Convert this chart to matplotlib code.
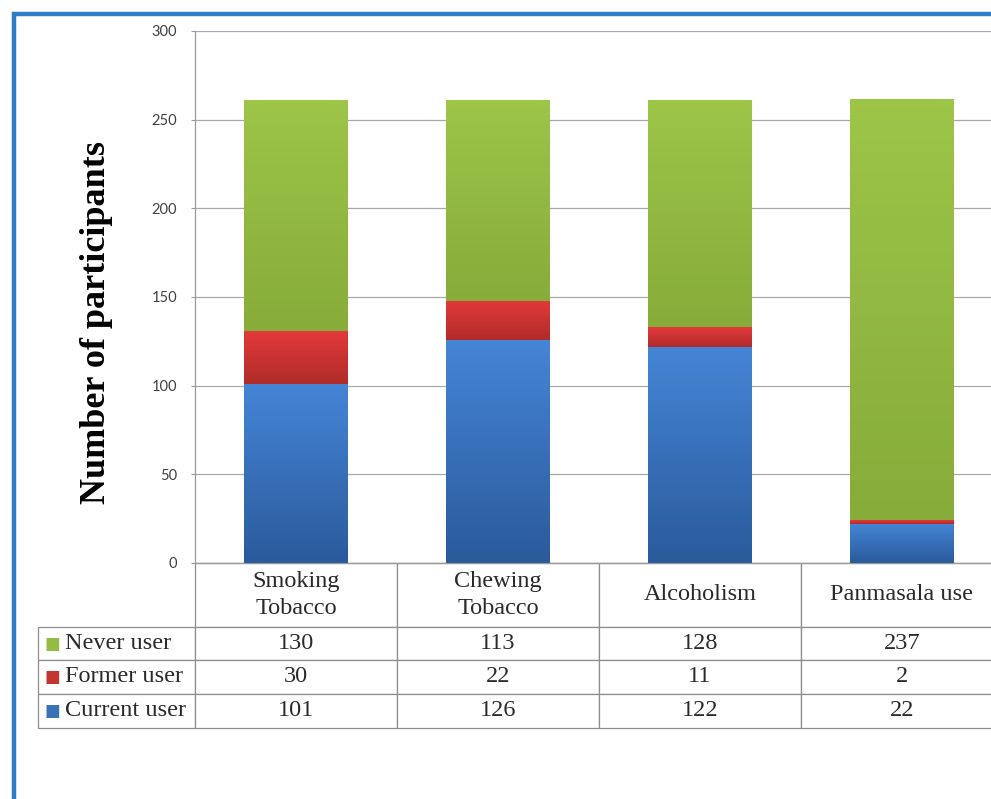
import matplotlib.pyplot as plt
import numpy as np
from matplotlib.patches import Rectangle
from matplotlib.colors import LinearSegmentedColormap

categories = ['Smoking\nTobacco', 'Chewing\nTobacco', 'Alcoholism', 'Panmasala use']
series_names = ['Never user', 'Former user', 'Current user']
current_user = [101, 126, 122, 22]
former_user = [30, 22, 11, 2]
never_user = [130, 113, 128, 237]
y_ticks = [0, 50, 100, 150, 200, 250, 300]

# (top, bottom) colours of the gradient fills
blue = ('#4585D6', '#2A5B9B')
red = ('#E3393A', '#B02C2A')
green = ('#9DC548', '#87AC3A')
square_cols = {'Never user': '#92BC43', 'Former user': '#C3362F', 'Current user': '#3A72B8'}

W, H = 991, 799
fig = plt.figure(figsize=(W / 100, H / 100), dpi=100)
fig.patch.set_facecolor('white')

# blue frame (only left and top are inside the picture)
fig.add_artist(Rectangle((13.5 / W, -0.1), 1.2, 1 - 13.5 / H + 0.1, transform=fig.transFigure,
                         fill=False, edgecolor='#2F7DC6', linewidth=3.2))

ax = fig.add_axes([195 / W, 1 - 563 / H, 808 / W, 532 / H])
x = np.arange(len(categories))
bottom = np.zeros(len(x))
grad = np.linspace(0, 1, 64).reshape(-1, 1)
for vals, cols in [(current_user, blue), (former_user, red), (never_user, green)]:
    bars = ax.bar(x, vals, 0.51, bottom=bottom, color='none', linewidth=0, zorder=3)
    cmap = LinearSegmentedColormap.from_list('g', [cols[1], cols[0]])
    for b in bars:
        x0, y0 = b.get_x(), b.get_y()
        ax.imshow(grad, cmap=cmap, origin='lower', aspect='auto', zorder=3,
                  extent=(x0, x0 + b.get_width(), y0, y0 + b.get_height()))
    bottom += np.array(vals)

ax.set_xlim(-0.5, 3.5)
ax.set_ylim(0, 300)
ax.set_yticks(y_ticks)
ax.set_xticks([])
ax.yaxis.grid(True, color='#A8A8A8', linewidth=0.9)
ax.set_axisbelow(True)
for s in ['top', 'right']:
    ax.spines[s].set_visible(False)
for s in ['left', 'bottom']:
    ax.spines[s].set_color('#9A9A9A')
    ax.spines[s].set_linewidth(0.9)
ax.tick_params(axis='y', length=3, color='#9A9A9A', labelsize=10.5, labelcolor='#404040', pad=10)
for lab in ax.get_yticklabels():
    lab.set_fontfamily('Lato')

fig.text(97 / W, 1 - 322 / H, 'Number of participants', rotation=90, ha='center', va='center',
         fontsize=26, fontweight='bold', family='Liberation Serif')

# data table under the plot
col_w = [157] + [202] * 4
row_px = [64, 33, 34, 34]
cell_text = [[''] + categories]
for name, vals in zip(series_names, [never_user, former_user, current_user]):
    cell_text.append([name] + [str(v) for v in vals])

tb_x0 = (38 - 195) / 808
tb_h = sum(row_px) / 532
tbl = ax.table(cellText=cell_text, colWidths=col_w, cellLoc='center',
               bbox=[tb_x0, -tb_h, sum(col_w) / 808, tb_h])
tbl.auto_set_font_size(False)
tbl.set_fontsize(17.5)
for (r, c), cell in tbl.get_celld().items():
    cell.set_height(row_px[r])
    cell.set_edgecolor('#8E8E8E')
    cell.set_linewidth(0.9)
    txt = cell.get_text()
    txt.set_fontfamily('Liberation Serif')
    txt.set_color('#2A2A2A')
    txt.set_linespacing(1.32)
    if c == 0:
        txt.set_ha('left')
        cell.PAD = 0.175
tbl[(0, 0)].visible_edges = ''

# legend squares in the row labels
row_h = np.array(row_px) / 532
edges = -np.cumsum(row_h)
for i, name in enumerate(series_names):
    yc = edges[i] - row_h[i + 1] / 2
    ax.text((52 - 195) / 808, yc, '\u25A0', color=square_cols[name], transform=ax.transAxes,
            ha='center', va='center', fontsize=12, clip_on=False)

fig.savefig('out.png', dpi=100)
